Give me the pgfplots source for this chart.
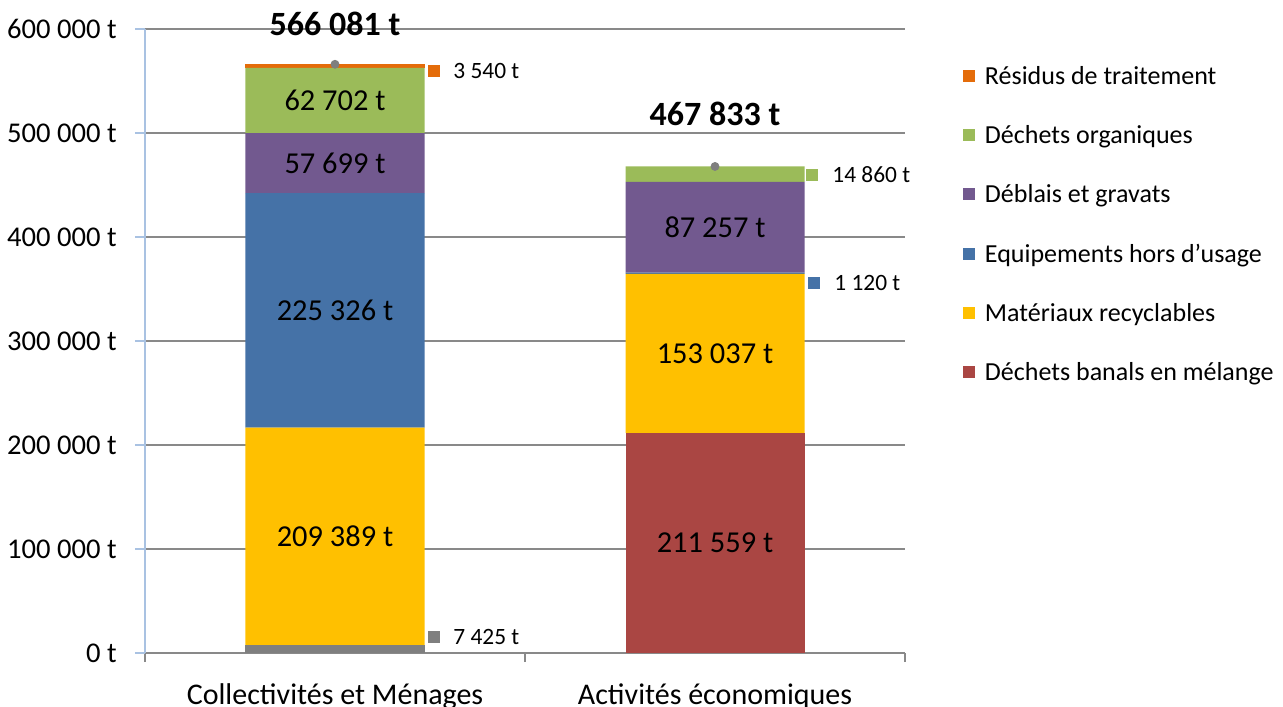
\documentclass[border=0pt]{standalone}
\usepackage{fontspec}
\setmainfont{Carlito}
\usepackage{pgfplots}
\pgfplotsset{compat=1.18}
\definecolor{cGrey}{HTML}{7F7F7F}
\definecolor{cRed}{HTML}{AA4643}
\definecolor{cYellow}{HTML}{FFC000}
\definecolor{cBlue}{HTML}{4572A7}
\definecolor{cPurple}{HTML}{72598F}
\definecolor{cGreen}{HTML}{9BBB59}
\definecolor{cOrange}{HTML}{E46C0A}
\definecolor{cGrid}{HTML}{898989}
\definecolor{cAxisBlue}{HTML}{A9C2E2}
\pgfplotsset{
  common/.style={scale only axis, width=380pt, height=312pt,
    xmin=-0.5, xmax=1.5, ymin=0, ymax=600000, at={(0,0)}, anchor=south west}
}
\tikzset{
  inlab/.style={font=\fontsize{15.2}{18}\selectfont, inner sep=0pt},
  smlab/.style={font=\fontsize{11.7}{14}\selectfont, inner sep=0pt, anchor=base west}
}
\begin{document}
\begin{tikzpicture}
\path[use as bounding box] (-72.5pt,-26.5pt) rectangle (569pt,326.5pt);
\begin{axis}[common,
  ybar stacked, bar width=89.5pt,
  axis lines*=left,
  x axis line style={cGrid, line width=0.75pt},
  y axis line style={cAxisBlue, line width=0.75pt},
  ymajorgrids, grid style={cGrid, line width=0.75pt},
  ytick={0,100000,200000,300000,400000,500000,600000},
  yticklabels={0 t,100 000 t,200 000 t,300 000 t,400 000 t,500 000 t,600 000 t},
  scaled y ticks=false,
  tick align=outside,
  major tick length=5pt,
  minor tick length=4.5pt,
  ytick style={draw=cAxisBlue, line width=0.9pt},
  yticklabel style={font=\fontsize{14.3}{16}\selectfont, anchor=east, inner sep=0pt, xshift=-9pt},
  xtick={0,1},
  xticklabels={Collectivités et Ménages, Activités économiques},
  major x tick style={draw=none},
  minor xtick={-0.5,0.5,1.5},
  minor x tick style={draw=cGrid, line width=0.75pt},
  xticklabel style={font=\fontsize{15}{18}\selectfont, anchor=base, inner sep=0pt, yshift=-20.5pt},
]
\addplot[fill=cGrey, draw=none] coordinates {(0,7425) (1,0)};
\addplot[fill=cRed, draw=none] coordinates {(0,0) (1,211559)};
\addplot[fill=cYellow, draw=none] coordinates {(0,209389) (1,153037)};
\addplot[fill=cBlue, draw=none] coordinates {(0,225326) (1,1120)};
\addplot[fill=cPurple, draw=none] coordinates {(0,57699) (1,87257)};
\addplot[fill=cGreen, draw=none] coordinates {(0,62702) (1,14860)};
\addplot[fill=cOrange, draw=none] coordinates {(0,3540) (1,0)};
\end{axis}

\begin{axis}[common, hide axis, clip=false,
  legend cell align=left,
  legend style={draw=none, fill=none, at={(1.0763,0.940)}, anchor=north west,
    inner sep=0pt, outer sep=0pt, row sep=17.6pt, font=\fontsize{13}{15}\selectfont,
    nodes={inner sep=0pt, text height=9pt, text depth=3pt},
    /tikz/every odd column/.append style={column sep=5pt}},
  legend image code/.code={\fill[#1, draw=none] (0pt,-1.8pt) rectangle (6pt,4.2pt);},
]
\addplot[only marks, mark=*, mark size=2pt, color=cGrey, nodes near coords,
  point meta=explicit symbolic, forget plot,
  nodes near coords style={font=\fontsize{17}{20}\selectfont\bfseries, text=black, anchor=base, yshift=14.5pt, inner sep=0pt}]
  coordinates {(0,566081) [566 081 t]};
\addplot[only marks, mark=*, mark size=2pt, color=cGrey, nodes near coords,
  point meta=explicit symbolic, forget plot,
  nodes near coords style={font=\fontsize{17}{20}\selectfont\bfseries, text=black, anchor=base, yshift=20.5pt, inner sep=0pt}]
  coordinates {(1,467833) [467 833 t]};
\addlegendimage{fill=cOrange}
\addlegendentry{Résidus de traitement}
\addlegendimage{fill=cGreen}
\addlegendentry{Déchets organiques}
\addlegendimage{fill=cPurple}
\addlegendentry{Déblais et gravats}
\addlegendimage{fill=cBlue}
\addlegendentry{Equipements hors d\symbol{39}usage}
\addlegendimage{fill=cYellow}
\addlegendentry{Matériaux recyclables}
\addlegendimage{fill=cRed}
\addlegendentry{Déchets banals en mélange}
% labels inside bars
\node[inlab] at (axis cs:0,112119.5) {209 389 t};
\node[inlab] at (axis cs:0,329477) {225 326 t};
\node[inlab] at (axis cs:0,470989.5) {57 699 t};
\node[inlab] at (axis cs:0,531190) {62 702 t};
\node[inlab] at (axis cs:1,105779.5) {211 559 t};
\node[inlab] at (axis cs:1,288077.5) {153 037 t};
\node[inlab] at (axis cs:1,409344.5) {87 257 t};
% small labels outside bars
\node[smlab, xshift=46.5pt] at (axis cs:0,552885) {\textcolor{cOrange}{\rule[0.7pt]{6pt}{6pt}}\hspace{6.5pt}3 540 t};
\node[smlab, xshift=46.5pt] at (axis cs:0,8654) {\textcolor{cGrey}{\rule[0.7pt]{6pt}{6pt}}\hspace{6.5pt}7 425 t};
\node[smlab, xshift=45.5pt] at (axis cs:1,452885) {\textcolor{cGreen}{\rule[0.7pt]{6pt}{6pt}}\hspace{7pt}14 860 t};
\node[smlab, xshift=46.5pt] at (axis cs:1,349038) {\textcolor{cBlue}{\rule[0.7pt]{6pt}{6pt}}\hspace{7pt}1 120 t};
\end{axis}
\end{tikzpicture}
\end{document}
